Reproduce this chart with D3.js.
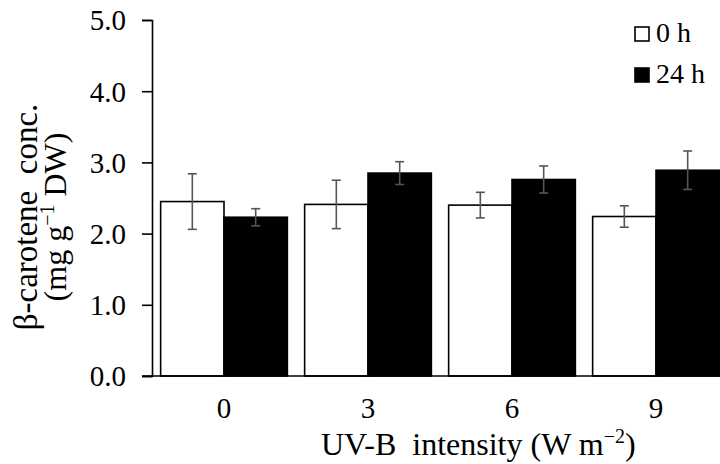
<!DOCTYPE html>
<html>
<head>
<meta charset="utf-8">
<script src="https://cdn.jsdelivr.net/npm/d3@7"></script>
<style>
  body { margin: 0; background: #fff; }
  svg text { font-family: "Liberation Serif", "Times New Roman", serif; fill: #000; }
</style>
</head>
<body>
<svg width="720" height="464"></svg>
<script>
"use strict";

const categories = ["0", "3", "6", "9"];
const seriesNames = ["0 h", "24 h"];
const values0h = [2.45, 2.41, 2.40, 2.24];
const errors0h = [0.39, 0.34, 0.18, 0.15];
const values24h = [2.23, 2.85, 2.76, 2.89];
const errors24h = [0.12, 0.16, 0.19, 0.27];
const yTicks = [0, 1, 2, 3, 4, 5];

const svg = d3.select("svg");
const margin = { left: 152, top: 20, bottom: 376 };

const y = d3.scaleLinear().domain([0, 5]).range([margin.bottom, margin.top]);

const x = d3.scaleBand().domain(categories).range([152, 728]).paddingInner(0.12).paddingOuter(0.06);
const xSub = d3.scaleBand().domain(seriesNames).range([0, x.bandwidth()]);

const data = categories.map((c, i) => ({
  cat: c,
  bars: [
    { s: "0 h", v: values0h[i], e: errors0h[i] },
    { s: "24 h", v: values24h[i], e: errors24h[i] }
  ]
}));

const fill = { "0 h": "#fff", "24 h": "#000" };

const groups = svg.append("g")
  .selectAll("g")
  .data(data)
  .enter()
  .append("g")
  .attr("transform", d => `translate(${x(d.cat)},0)`);

groups.selectAll("rect")
  .data(d => d.bars)
  .enter()
  .append("rect")
  .attr("x", d => xSub(d.s))
  .attr("y", d => y(d.v))
  .attr("width", xSub.bandwidth())
  .attr("height", d => y(0) - y(d.v))
  .attr("fill", d => fill[d.s])
  .attr("stroke", "#000")
  .attr("stroke-width", 1.6);

const err = groups.selectAll("g.err")
  .data(d => d.bars)
  .enter()
  .append("g")
  .attr("class", "err")
  .attr("stroke", "#555")
  .attr("stroke-width", 1.6);

const cx = d => xSub(d.s) + xSub.bandwidth() / 2;

err.append("line")
  .attr("x1", cx)
  .attr("x2", cx)
  .attr("y1", d => y(d.v + d.e))
  .attr("y2", d => y(d.v - d.e));

[1, -1].forEach(sign => {
  err.append("line")
    .attr("x1", d => cx(d) - 4.5)
    .attr("x2", d => cx(d) + 4.5)
    .attr("y1", d => y(d.v + sign * d.e))
    .attr("y2", d => y(d.v + sign * d.e));
});

// y axis
const yAxis = d3.axisLeft(y)
  .tickValues(yTicks)
  .tickSize(10)
  .tickPadding(16)
  .tickFormat(d3.format(".1f"));

const yAxisG = svg.append("g")
  .attr("transform", `translate(${margin.left},0)`)
  .call(yAxis);
yAxisG.select(".domain").attr("stroke", "#000").attr("stroke-width", 1.6);
yAxisG.selectAll(".tick line").attr("stroke", "#000").attr("stroke-width", 1.6);
yAxisG.selectAll(".tick text").style("font-size", "29px").attr("dy", "0.34em");

// x axis line
svg.append("line")
  .attr("x1", margin.left - 10)
  .attr("x2", 720)
  .attr("y1", y(0))
  .attr("y2", y(0))
  .attr("stroke", "#000")
  .attr("stroke-width", 1.6);

const xAxis = d3.axisBottom(x).tickSize(0).tickPadding(42);
const xAxisG = svg.append("g")
  .attr("transform", `translate(0,${y(0)})`)
  .call(xAxis);
xAxisG.select(".domain").remove();
xAxisG.selectAll(".tick text").style("font-size", "29px").attr("dy", "0");

// axis titles
const xTitle = svg.append("text")
  .attr("x", 321)
  .attr("y", 455)
  .attr("text-anchor", "start")
  .style("font-size", "32px")
  .style("white-space", "pre");
xTitle.append("tspan").text("UV-B  intensity (W m");
xTitle.append("tspan").attr("dy", "-12").style("font-size", "20px").text("−2");
xTitle.append("tspan").attr("dy", "12").text(")");

const yTitle = svg.append("g")
  .attr("transform", "translate(0,217) rotate(-90)");
yTitle.append("text")
  .attr("x", 0)
  .attr("y", 37)
  .attr("text-anchor", "middle")
  .style("font-size", "33px")
  .style("white-space", "pre")
  .text("β-carotene  conc.");
const yt2 = yTitle.append("text")
  .attr("x", 0)
  .attr("y", 66)
  .attr("text-anchor", "middle")
  .style("font-size", "32px")
  .style("white-space", "pre");
yt2.append("tspan").text("(mg g");
yt2.append("tspan").attr("dy", "-12").style("font-size", "20px").text("−1");
yt2.append("tspan").attr("dy", "12").text(" DW)");

// legend
const legend = svg.append("g")
  .selectAll("g")
  .data(seriesNames)
  .enter()
  .append("g")
  .attr("transform", (d, i) => `translate(635,${27 + i * 41})`);

legend.append("rect")
  .attr("width", 14)
  .attr("height", 14)
  .attr("fill", d => fill[d])
  .attr("stroke", "#000")
  .attr("stroke-width", 1.6);

legend.append("text")
  .attr("x", 21)
  .attr("y", 15)
  .style("font-size", "28px")
  .text(d => d);
</script>
</body>
</html>
